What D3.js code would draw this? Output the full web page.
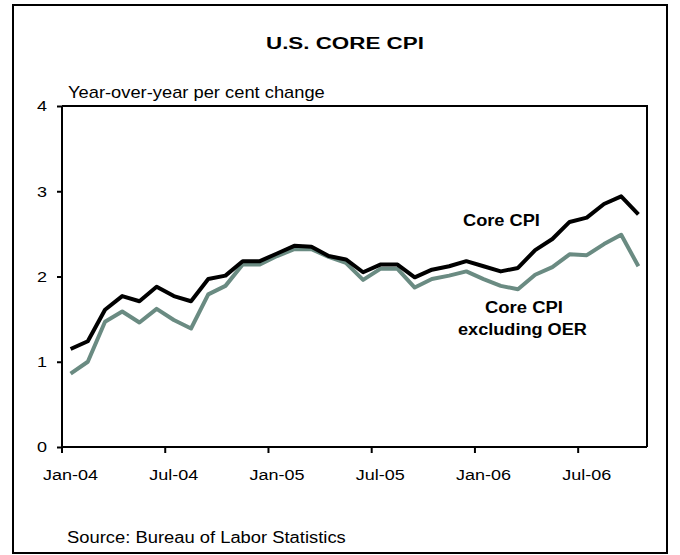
<!DOCTYPE html>
<html>
<head>
<meta charset="utf-8">
<script src="https://cdn.jsdelivr.net/npm/d3@7"></script>
<style>
  body { margin: 0; background: #fff; }
  text { font-family: "Liberation Sans", Arial, sans-serif; }
</style>
</head>
<body>
<div id="chart"></div>
<script>
// monthly, Jan-04 .. Oct-06
var months = ["Jan-04","Feb-04","Mar-04","Apr-04","May-04","Jun-04","Jul-04","Aug-04","Sep-04","Oct-04","Nov-04","Dec-04",
  "Jan-05","Feb-05","Mar-05","Apr-05","May-05","Jun-05","Jul-05","Aug-05","Sep-05","Oct-05","Nov-05","Dec-05",
  "Jan-06","Feb-06","Mar-06","Apr-06","May-06","Jun-06","Jul-06","Aug-06","Sep-06","Oct-06"];
var coreCPI = [1.15,1.24,1.61,1.77,1.71,1.88,1.77,1.71,1.97,2.01,2.18,2.18,
  2.27,2.36,2.35,2.24,2.20,2.05,2.14,2.14,1.99,2.08,2.12,2.18,
  2.12,2.06,2.10,2.31,2.44,2.64,2.69,2.85,2.94,2.73];
var coreExOER = [0.86,1.00,1.47,1.59,1.46,1.62,1.49,1.39,1.79,1.89,2.14,2.14,
  2.24,2.32,2.32,2.23,2.16,1.96,2.09,2.09,1.87,1.97,2.01,2.06,
  1.97,1.89,1.85,2.02,2.11,2.26,2.25,2.38,2.49,2.12];
var yTicks = [0, 1, 2, 3, 4];
var xTickMonths = ["Jan-04","Jul-04","Jan-05","Jul-05","Jan-06","Jul-06"];

var width = 680, height = 555;
var margin = { top: 106, right: 33, bottom: 108, left: 62 };
var w = width - margin.left - margin.right,
  h = height - margin.top - margin.bottom;
var stretch = 1.2; // the original text is drawn wide

var svg = d3.select("#chart").append("svg")
  .attr("width", width)
  .attr("height", height);

// outer frame
svg.append("rect")
  .attr("x", 13).attr("y", 5)
  .attr("width", 654).attr("height", 548)
  .attr("fill", "none")
  .attr("stroke", "#000")
  .attr("stroke-width", 2);

// text stretched sideways to a given width
function label(txt, x0, yb, len, size, bold) {
  var t = svg.append("text")
    .attr("font-size", size)
    .attr("font-weight", bold ? 700 : 400)
    .text(txt);
  var k = len / t.node().getComputedTextLength();
  t.attr("transform", "translate(" + x0 + "," + yb + ") scale(" + k + ",1)");
  return t;
}

label("U.S. CORE CPI", 266, 49, 158, 17, true);

var g = svg.append("g")
  .attr("transform", "translate(" + margin.left + "," + margin.top + ")");

var x = d3.scaleBand().domain(months).range([0, w]);
var y = d3.scaleLinear().domain([0, 4]).range([h, 0]);

// box top + right
g.append("path")
  .attr("d", "M0,0H" + w + "V" + h)
  .attr("fill", "none")
  .attr("stroke", "#000")
  .attr("stroke-width", 2);

var yAxis = g.append("g")
  .call(d3.axisLeft(y).tickValues(yTicks).tickFormat(d3.format("d")).tickSize(5).tickPadding(10));
var xAxis = g.append("g")
  .attr("transform", "translate(0," + h + ")")
  .call(d3.axisBottom(x).tickValues(xTickMonths).tickSize(0).tickPadding(22));
// ticks sit on category boundaries
xTickMonths.forEach(function(m) {
  g.append("line")
    .attr("x1", x(m)).attr("x2", x(m))
    .attr("y1", h).attr("y2", h + 6)
    .attr("stroke", "#000").attr("stroke-width", 2);
});

yAxis.select(".domain").attr("stroke-width", 2).attr("d", "M0,0V" + h);
xAxis.select(".domain").attr("stroke-width", 2).attr("d", "M0,0H" + w);
[yAxis, xAxis].forEach(function(a) {
  a.selectAll(".tick line").attr("stroke-width", 2);
  a.selectAll("text").attr("font-size", 15).attr("fill", "#000")
    .style("font-family", "'Liberation Sans', Arial, sans-serif")
    .attr("transform", "scale(" + stretch + ",1)");
});
yAxis.selectAll("text").attr("x", -15 / stretch);

var line = function(vals) {
  return d3.line()
    .x(function(d, i) { return x(months[i]) + x.bandwidth() / 2; })
    .y(function(d) { return y(d); })(vals);
};

g.append("path")
  .attr("d", line(coreExOER))
  .attr("fill", "none")
  .attr("stroke", "#6a8b82")
  .attr("stroke-width", 4)
  .attr("stroke-linejoin", "round");

g.append("path")
  .attr("d", line(coreCPI))
  .attr("fill", "none")
  .attr("stroke", "#000")
  .attr("stroke-width", 4)
  .attr("stroke-linejoin", "round");

label("Year-over-year per cent change", 68, 98, 257, 16, false);

label("Core CPI", 463, 226, 77, 17, true);
label("Core CPI", 485, 313, 78, 17, true);
label("excluding OER", 458, 335, 129, 17, true);

label("Source: Bureau of Labor Statistics", 67, 543, 279, 16, false);
</script>
</body>
</html>
